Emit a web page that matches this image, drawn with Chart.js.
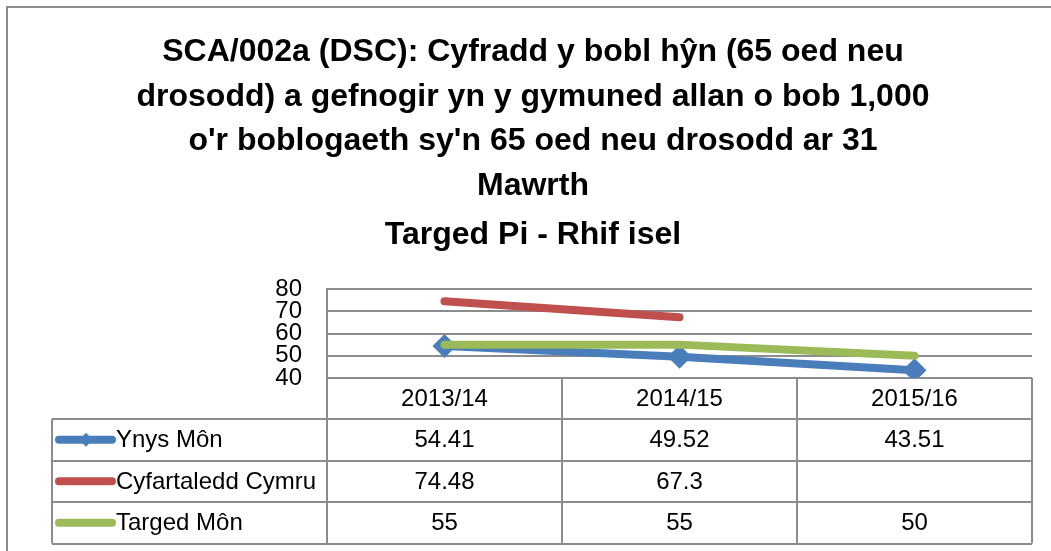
<!DOCTYPE html>
<html lang="cy">
<head>
    <meta charset="UTF-8">
    <title>SCA/002a (DSC)</title>
    <script src="https://cdn.jsdelivr.net/npm/chart.js@4.4.0/dist/chart.umd.js"></script>
    <style>
        body {
            margin: 0;
            background: #ffffff;
        }
        #wrap {
            width: 1051px;
            height: 551px;
        }
    </style>
</head>
<body>
    <div id="wrap">
        <canvas id="sca002a" width="1051" height="551"></canvas>
    </div>

    <script>
        // Data
        const categories = ['2013/14', '2014/15', '2015/16'];
        const seriesNames = ['Ynys Môn', 'Cyfartaledd Cymru', 'Targed Môn'];
        const ynysMon = [54.41, 49.52, 43.51];
        const cyfartaleddCymru = [74.48, 67.3, null];
        const targedMon = [55, 55, 50];
        const tableText = [
            ['54.41', '49.52', '43.51'],
            ['74.48', '67.3', ''],
            ['55', '55', '50']
        ];
        const yTicks = [40, 50, 60, 70, 80];

        const BLUE = '#4a7ebb';
        const RED = '#c0504d';
        const GREEN = '#9bbb59';
        const GRID = '#8c8c8c';
        const FONT = '"Liberation Sans", Arial, sans-serif';

        // white background + outer frame (right and bottom edges lie outside the picture)
        const framePlugin = {
            id: 'frame',
            beforeDraw(chart) {
                const ctx = chart.ctx;
                ctx.save();
                ctx.fillStyle = '#ffffff';
                ctx.fillRect(0, 0, chart.width, chart.height);
                ctx.strokeStyle = GRID;
                ctx.lineWidth = 2;
                ctx.beginPath();
                ctx.moveTo(7, chart.height + 5);
                ctx.lineTo(7, 7);
                ctx.lineTo(chart.width + 5, 7);
                ctx.stroke();
                ctx.restore();
            }
        };

        // data table under the plot, columns taken from the x scale
        const tablePlugin = {
            id: 'dataTable',
            afterDraw(chart) {
                const ctx = chart.ctx;
                const x = chart.scales.x;
                const area = chart.chartArea;
                const n = categories.length;
                const band = (area.right - area.left) / n;
                const top = area.bottom;
                const headH = 41;
                const rowH = 41.5;
                const legendLeft = 52;
                const colors = [BLUE, RED, GREEN];

                ctx.save();
                ctx.strokeStyle = GRID;
                ctx.lineWidth = 2;

                // vertical lines
                ctx.beginPath();
                for (let i = 0; i <= n; i++) {
                    const px = Math.round(area.left + i * band);
                    ctx.moveTo(px, top);
                    ctx.lineTo(px, top + headH + rowH * 3);
                }
                ctx.moveTo(legendLeft, top + headH);
                ctx.lineTo(legendLeft, top + headH + rowH * 3);
                // horizontal lines
                for (let r = 0; r <= 3; r++) {
                    const py = Math.round(top + headH + r * rowH);
                    ctx.moveTo(legendLeft, py);
                    ctx.lineTo(area.right, py);
                }
                ctx.stroke();

                ctx.fillStyle = '#000000';
                ctx.font = '24px ' + FONT;
                ctx.textAlign = 'center';
                ctx.textBaseline = 'middle';
                categories.forEach((c, i) => {
                    ctx.fillText(c, x.getPixelForValue(i), top + headH / 2 + 1);
                });

                for (let r = 0; r < 3; r++) {
                    const cy = top + headH + r * rowH + rowH / 2 + 1;
                    ctx.textAlign = 'center';
                    for (let i = 0; i < n; i++) {
                        ctx.fillText(tableText[r][i], x.getPixelForValue(i), cy);
                    }
                    // legend key
                    ctx.strokeStyle = colors[r];
                    ctx.lineWidth = 8;
                    ctx.lineCap = 'round';
                    ctx.beginPath();
                    ctx.moveTo(59, cy - 1);
                    ctx.lineTo(112, cy - 1);
                    ctx.stroke();
                    if (r === 0) {
                        ctx.fillStyle = BLUE;
                        ctx.beginPath();
                        ctx.moveTo(86, cy - 8);
                        ctx.lineTo(93, cy - 1);
                        ctx.lineTo(86, cy + 6);
                        ctx.lineTo(79, cy - 1);
                        ctx.closePath();
                        ctx.fill();
                    }
                    ctx.fillStyle = '#000000';
                    ctx.textAlign = 'left';
                    ctx.fillText(seriesNames[r], 116, cy);
                }
                ctx.restore();
            }
        };

        const ctx = document.getElementById('sca002a').getContext('2d');
        new Chart(ctx, {
            type: 'line',
            data: {
                labels: categories,
                datasets: [
                    {
                        label: seriesNames[0],
                        data: ynysMon,
                        borderColor: BLUE,
                        backgroundColor: BLUE,
                        borderWidth: 8,
                        borderCapStyle: 'round',
                        pointStyle: 'rectRot',
                        pointRadius: 12,
                        pointBorderWidth: 0,
                        pointBackgroundColor: BLUE,
                        order: 3
                    },
                    {
                        label: seriesNames[1],
                        data: cyfartaleddCymru,
                        borderColor: RED,
                        backgroundColor: RED,
                        borderWidth: 8,
                        borderCapStyle: 'round',
                        pointRadius: 0,
                        order: 2
                    },
                    {
                        label: seriesNames[2],
                        data: targedMon,
                        borderColor: GREEN,
                        backgroundColor: GREEN,
                        borderWidth: 8,
                        borderCapStyle: 'round',
                        pointRadius: 0,
                        order: 1
                    }
                ]
            },
            options: {
                responsive: false,
                animation: false,
                layout: {
                    padding: { top: 0, left: 34, right: 19, bottom: 173 }
                },
                plugins: {
                    legend: { display: false },
                    tooltip: { enabled: false },
                    title: {
                        display: true,
                        text: [
                            'SCA/002a (DSC): Cyfradd y bobl hŷn (65 oed neu',
                            'drosodd) a gefnogir yn y gymuned allan o bob 1,000',
                            "o'r boblogaeth sy'n 65 oed neu drosodd ar 31",
                            'Mawrth'
                        ],
                        color: '#000000',
                        font: { family: FONT, size: 32, weight: 'bold', lineHeight: 44.5 / 32 },
                        padding: { top: 30, bottom: 0 }
                    },
                    subtitle: {
                        display: true,
                        text: 'Targed Pi - Rhif isel',
                        color: '#000000',
                        font: { family: FONT, size: 32, weight: 'bold', lineHeight: 44.5 / 32 },
                        padding: { top: 4.75, bottom: 31.75 }
                    }
                },
                scales: {
                    x: {
                        display: false,
                        offset: true
                    },
                    y: {
                        min: yTicks[0],
                        max: yTicks[yTicks.length - 1],
                        afterFit(scale) {
                            scale.width = 293;
                        },
                        afterBuildTicks(scale) {
                            scale.ticks = yTicks.map(v => ({ value: v }));
                        },
                        ticks: {
                            autoSkip: false,
                            padding: 25,
                            color: '#000000',
                            font: { family: FONT, size: 24, lineHeight: 1 }
                        },
                        grid: {
                            color: GRID,
                            lineWidth: 2,
                            drawTicks: false
                        },
                        border: {
                            color: GRID,
                            width: 2
                        }
                    }
                }
            },
            plugins: [framePlugin, tablePlugin]
        });
    </script>
</body>
</html>
